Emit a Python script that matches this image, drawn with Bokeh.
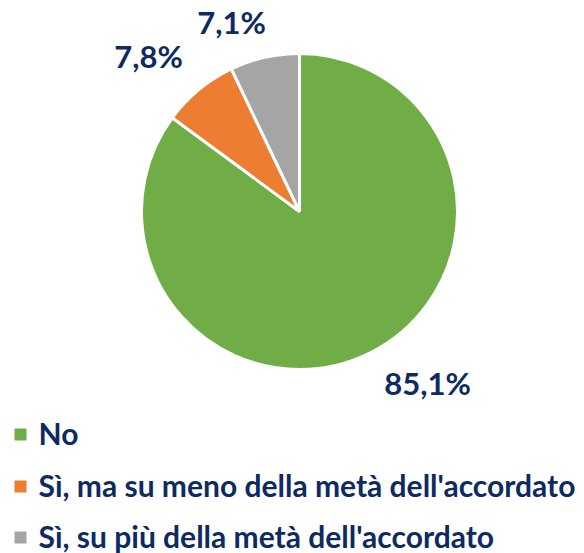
import math
from bokeh.plotting import figure
from bokeh.models import ColumnDataSource, Range1d
from bokeh.core.properties import value
from bokeh.embed import file_html
from bokeh.resources import INLINE

# ---- data ----
categories = ["No", "Sì, ma su meno della metà dell'accordato", "Sì, su più della metà dell'accordato"]
shares = [85.1, 7.8, 7.1]
labels = ["85,1%", "7,8%", "7,1%"]
colors = ["#70AD47", "#ED7D31", "#A5A5A5"]

W, H = 584, 553
TEXT_COLOR = "#0E2A62"
FONT = "Lato"

p = figure(width=W, height=H, output_backend="svg", toolbar_location=None,
           x_range=Range1d(0, W), y_range=Range1d(0, H), min_border=0)
p.axis.visible = False
p.grid.visible = False
p.outline_line_color = None
p.background_fill_color = "white"
p.border_fill_color = "white"

def Y(y_screen):
    return H - y_screen

# ---- pie ----
cx, cy, r = 299, Y(211), 158
total = sum(shares)
starts, ends = [], []
acc = 0.0
for s in shares:
    a0 = math.pi / 2 - 2 * math.pi * acc / total
    acc += s
    a1 = math.pi / 2 - 2 * math.pi * acc / total
    starts.append(a0)
    ends.append(a1)
src = ColumnDataSource(dict(start=starts, end=ends, color=colors))
p.wedge(x=cx, y=cy, radius=r, start_angle="start", end_angle="end", direction="clock",
        fill_color="color", line_color="white", line_width=3, source=src)

# ---- data labels (positions are layout) ----
lab_pos = [(427, Y(382)), (148, Y(55)), (231, Y(21))]
p.text(x=[q[0] for q in lab_pos], y=[q[1] for q in lab_pos], text=labels,
       text_font=value(FONT), text_font_style="bold", text_font_size="31px",
       text_color=TEXT_COLOR, text_align="center", text_baseline="middle")

# ---- legend ----
leg_sq = [Y(434), Y(486), Y(537)]
p.rect(x=[20] * 3, y=leg_sq, width=12, height=12, fill_color=colors, line_color=None)
p.text(x=[38] * 3, y=[v + 2 for v in leg_sq], text=categories,
       text_font=value(FONT), text_font_style="bold", text_font_size="30px",
       text_color=TEXT_COLOR, text_align="left", text_baseline="middle")

open("out.html", "w").write(file_html(p, INLINE))
